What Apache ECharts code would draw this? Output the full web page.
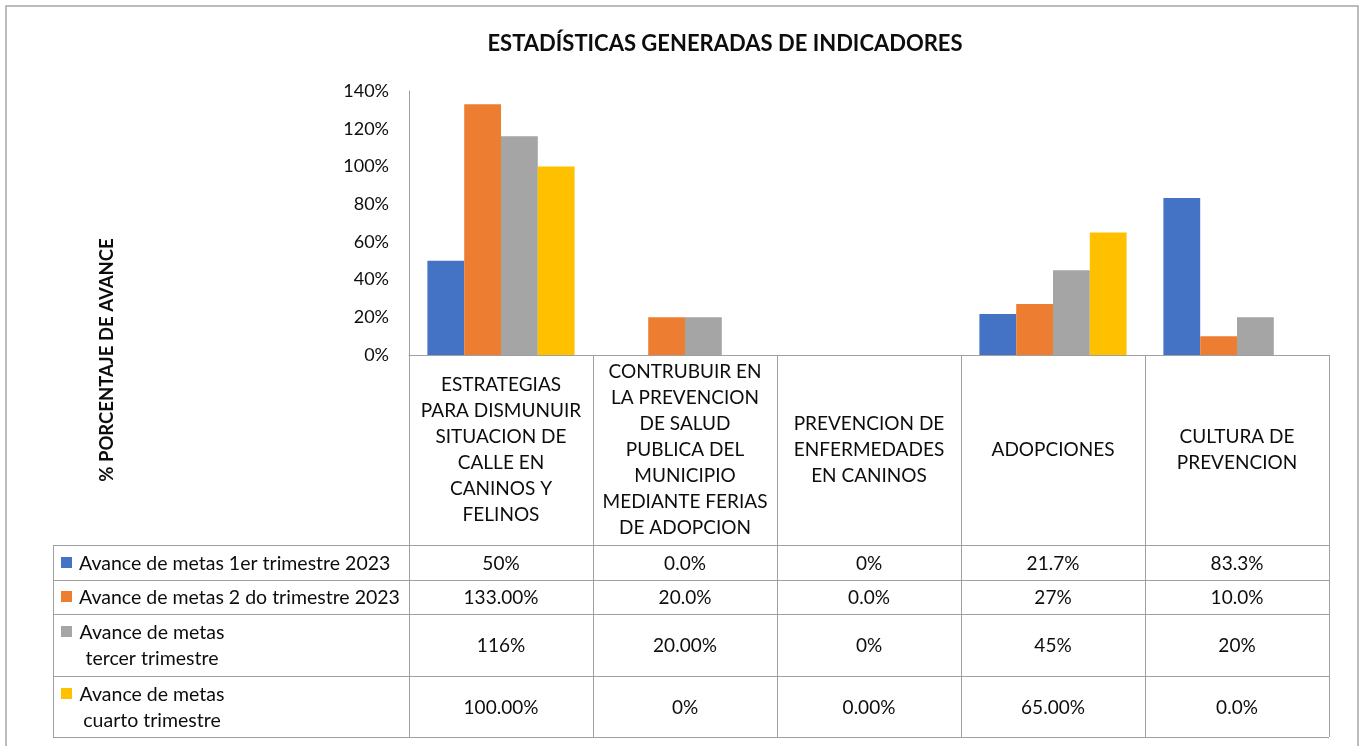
<!DOCTYPE html>
<html>
<head>
<meta charset="utf-8">
<script src="https://cdn.jsdelivr.net/npm/echarts@6/dist/echarts.min.js"></script>
<style>
  html, body { margin: 0; padding: 0; background: #fff; }
  #chart { width: 1361px; height: 746px; }
</style>
</head>
<body>
<div id="chart"></div>
<script>
const categories = [
  'ESTRATEGIAS\nPARA DISMUNUIR\nSITUACION DE\nCALLE EN\nCANINOS Y\nFELINOS',
  'CONTRUBUIR EN\nLA PREVENCION\nDE SALUD\nPUBLICA DEL\nMUNICIPIO\nMEDIANTE FERIAS\nDE ADOPCION',
  'PREVENCION DE\nENFERMEDADES\nEN CANINOS',
  'ADOPCIONES',
  'CULTURA DE\nPREVENCION'
];
const seriesNames = [
  'Avance de metas 1er trimestre 2023',
  'Avance de metas 2 do trimestre 2023',
  'Avance de metas\ntercer trimestre',
  'Avance de metas\ncuarto trimestre'
];
const colors = ['#4472C4', '#ED7D31', '#A5A5A5', '#FFC000'];

const q1 = [0.50, 0.00, 0.00, 0.217, 0.833];
const q2 = [1.33, 0.20, 0.00, 0.27, 0.10];
const q3 = [1.16, 0.20, 0.00, 0.45, 0.20];
const q4 = [1.00, 0.00, 0.00, 0.65, 0.00];

const q1Labels = ['50%', '0.0%', '0%', '21.7%', '83.3%'];
const q2Labels = ['133.00%', '20.0%', '0.0%', '27%', '10.0%'];
const q3Labels = ['116%', '20.00%', '0%', '45%', '20%'];
const q4Labels = ['100.00%', '0%', '0.00%', '65.00%', '0.0%'];

const values = [q1, q2, q3, q4];
const tableLabels = [q1Labels, q2Labels, q3Labels, q4Labels];

// layout of the plot + data table
const G = { left: 409, top: 91, right: 1329, bottom: 355 };
const tableLeft = 53;
const rowLines = [545, 580, 614, 676, 737];
const FONT = 'Lato, "Open Sans", sans-serif';
const lineColor = '#a0a0a0';
const textColor = '#0d0d0d';

const chart = echarts.init(document.getElementById('chart'));

function buildTable() {
  const els = [];
  const colW = (G.right - G.left) / categories.length;
  const line = (x1, y1, x2, y2) => els.push({
    type: 'line', silent: true,
    shape: { x1, y1, x2, y2 },
    style: { stroke: lineColor, lineWidth: 1 }
  });
  // horizontal lines
  rowLines.forEach((y) => line(tableLeft, y + 0.5, G.right, y + 0.5));
  // vertical lines
  line(tableLeft + 0.5, rowLines[0], tableLeft + 0.5, rowLines[rowLines.length - 1]);
  for (let i = 0; i <= categories.length; i++) {
    const x = Math.round(G.left + colW * i) + 0.5;
    line(x, i === 0 ? G.top : G.bottom, x, rowLines[rowLines.length - 1]);
  }
  // rows: legend key + values
  tableLabels.forEach((labels, r) => {
    const y0 = rowLines[r], y1 = rowLines[r + 1];
    const cy = (y0 + y1) / 2;
    const twoLines = seriesNames[r].indexOf('\n') >= 0;
    const firstLineY = twoLines ? cy - 13 : cy;
    els.push({
      type: 'rect', silent: true,
      shape: { x: 61, y: Math.round(firstLineY - 6), width: 11, height: 11 },
      style: { fill: colors[r] }
    });
    els.push({
      type: 'text', silent: true,
      style: {
        text: seriesNames[r],
        x: twoLines ? 152 : 79, y: cy + 1,
        align: twoLines ? 'center' : 'left', verticalAlign: 'middle',
        font: '19.5px ' + FONT, lineHeight: 26, fill: textColor
      }
    });
    labels.forEach((t, c) => {
      els.push({
        type: 'text', silent: true,
        style: {
          text: t,
          x: G.left + colW * (c + 0.5), y: cy + 1,
          align: 'center', verticalAlign: 'middle',
          font: '19px ' + FONT, fill: textColor
        }
      });
    });
  });
  // y axis title, centred on the whole left band
  els.push({
    type: 'text', silent: true,
    x: 107, y: 360, rotation: Math.PI / 2,
    style: {
      text: '% PORCENTAJE DE AVANCE',
      x: 0, y: 0, align: 'center', verticalAlign: 'middle',
      font: 'bold 18.5px ' + FONT, fill: textColor
    }
  });
  // outer frame
  els.push({
    type: 'rect', silent: true,
    shape: { x: 6, y: 6, width: 1352, height: 760 },
    style: { fill: 'none', stroke: '#a6a6a6', lineWidth: 1.5 }
  });
  return els;
}

const option = {
  animation: false,
  backgroundColor: '#fff',
  textStyle: { fontFamily: FONT },
  title: {
    text: 'ESTADÍSTICAS GENERADAS DE INDICADORES',
    left: 720, top: 28, textAlign: 'center',
    textStyle: { fontSize: 22, fontWeight: 'bold', color: textColor, fontFamily: FONT }
  },
  grid: {
    left: G.left, top: G.top,
    width: G.right - G.left, height: G.bottom - G.top,
    containLabel: false
  },
  xAxis: {
    type: 'category',
    data: categories,
    axisLine: { lineStyle: { color: lineColor, width: 1 } },
    axisTick: { show: false },
    axisLabel: {
      interval: 0, margin: 95, verticalAlign: 'middle',
      fontSize: 19, lineHeight: 26, color: textColor, fontFamily: FONT
    }
  },
  yAxis: {
    type: 'value',
    min: 0, max: 1.4, interval: 0.2,
    axisLine: { show: true, lineStyle: { color: lineColor, width: 1 } },
    axisTick: { show: false },
    splitLine: { show: false },
    axisLabel: {
      margin: 20, fontSize: 18, color: textColor, fontFamily: FONT,
      formatter: (v) => Math.round(v * 100) + '%'
    }
  },
  series: values.map((data, i) => ({
    name: seriesNames[i],
    type: 'bar',
    data,
    barGap: '0%',
    barCategoryGap: '20%',
    itemStyle: { color: colors[i] }
  })),
  graphic: buildTable()
};

chart.setOption(option);
</script>
</body>
</html>
